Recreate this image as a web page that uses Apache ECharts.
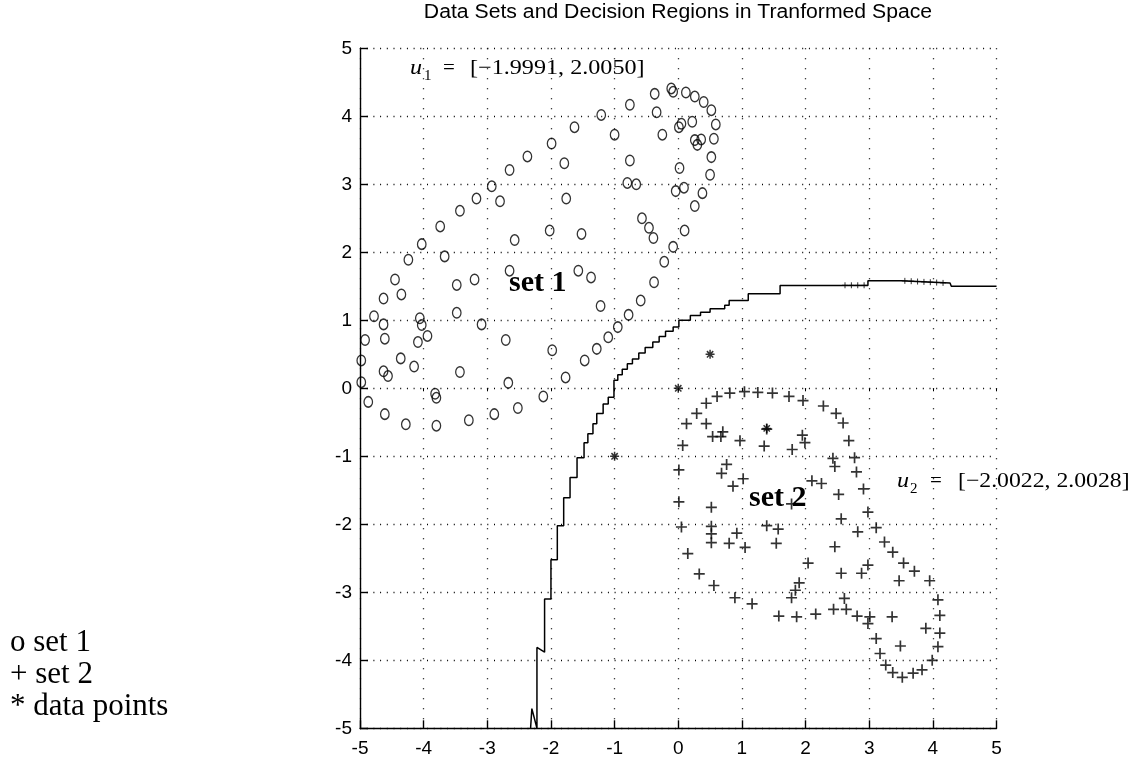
<!DOCTYPE html>
<html>
<head>
<meta charset="utf-8">
<script src="https://cdn.jsdelivr.net/npm/echarts@6/dist/echarts.min.js"></script>
<style>
html,body{margin:0;padding:0;background:#fff;}
#chart{width:1138px;height:764px;}
</style>
</head>
<body>
<div id="chart"></div>
<script>
// ---- data ----
var axisTicks = [-5, -4, -3, -2, -1, 0, 1, 2, 3, 4, 5];

var set1X = [-0.37,-0.76,-0.11,-0.08,0.12,0.26,0.40,0.52,0.59,0.22,0.05,0.01,-0.34,-1.21,-1.63,-1.00,-0.25,0.26,0.36,0.30,
  0.56,0.52,-1.99,-2.37,-1.79,-0.76,0.02,0.50,-2.65,-2.93,-2.80,-3.17,-3.43,-1.76,-0.80,-0.66,-0.04,0.09,0.38,0.26,
  -3.74,-4.03,-4.24,-3.67,-2.57,-2.02,-1.52,-0.57,-0.46,-0.39,0.10,-0.08,-0.22,-0.38,-4.45,-4.35,-4.63,-3.48,-3.20,-2.65,
  -1.57,-1.37,-4.78,-4.63,-4.06,-4.03,-3.94,-4.09,-3.48,-3.09,-1.22,-0.59,-0.78,-0.95,-1.10,-1.28,-1.47,-1.77,-1.98,-2.71,
  -4.61,-4.92,-4.98,-4.36,-4.15,-4.63,-4.56,-4.98,-3.43,-2.67,-3.82,-3.80,-4.87,-4.61,-4.28,-3.80,-3.29,-2.89,-2.52,-2.12];
var set1Y = [4.33,4.17,4.41,4.36,4.35,4.29,4.21,4.09,3.88,3.92,3.89,3.84,4.06,4.02,3.84,3.73,3.73,3.65,3.66,3.58,
  3.67,3.40,3.60,3.41,3.31,3.35,3.24,3.14,3.21,2.97,2.75,2.79,2.61,2.79,3.02,3.00,2.90,2.95,2.87,2.68,
  2.38,2.12,1.89,1.94,2.18,2.32,2.27,2.50,2.36,2.21,2.32,2.08,1.86,1.56,1.60,1.38,1.32,1.52,1.60,1.73,
  1.73,1.63,1.06,0.94,1.03,0.93,0.77,0.68,1.11,0.94,1.21,1.29,1.08,0.90,0.75,0.58,0.41,0.16,0.56,0.71,
  0.73,0.71,0.41,0.44,0.32,0.25,0.18,0.09,0.24,0.08,-0.08,-0.14,-0.20,-0.38,-0.53,-0.55,-0.47,-0.38,-0.29,-0.12];

var set2X = [0.44,0.61,0.81,1.04,1.25,1.48,1.74,1.96,2.28,2.48,2.59,2.68,2.77,2.80,2.91,2.98,3.11,3.24,3.37,3.54,
  3.71,3.95,4.08,4.11,4.11,4.08,3.99,3.83,3.69,3.52,3.37,3.26,3.17,3.11,2.98,3.01,2.81,2.64,2.61,2.44,
  2.16,1.86,1.58,1.78,1.84,1.90,2.04,2.56,2.88,2.98,3.47,3.89,3.36,3.49,2.46,2.56,2.82,2.52,2.10,2.25,
  1.78,1.39,1.57,1.54,2.43,2.46,1.95,1.99,1.79,1.35,1.39,0.97,0.54,0.67,0.70,0.44,0.13,0.29,0.07,0.01,
  0.01,0.05,0.15,0.33,0.56,0.89,1.16,0.76,0.68,1.02,0.86,0.52,0.52,0.52,0.52,0.80,0.92,1.05];
var set2Y = [-0.22,-0.12,-0.07,-0.05,-0.06,-0.07,-0.12,-0.18,-0.26,-0.37,-0.51,-0.77,-1.02,-1.23,-1.48,-1.82,-2.05,-2.26,-2.41,-2.57,
  -2.69,-2.83,-3.11,-3.34,-3.60,-3.80,-4.00,-4.14,-4.19,-4.25,-4.18,-4.07,-3.90,-3.68,-3.46,-3.36,-3.35,-3.25,-3.09,-3.25,
  -3.32,-3.36,-3.35,-3.08,-2.97,-2.86,-2.57,-2.72,-2.72,-2.60,-2.83,-3.53,-3.36,-3.79,-2.33,-1.92,-2.11,-1.56,-1.36,-1.40,
  -1.70,-2.02,-2.07,-2.28,-1.03,-1.15,-0.69,-0.80,-0.90,-0.85,-0.60,-0.77,-0.71,-0.71,-0.64,-0.52,-0.52,-0.37,-0.84,-1.20,
  -1.67,-2.04,-2.43,-2.73,-2.90,-3.08,-3.17,-1.12,-1.25,-1.33,-1.44,-1.75,-2.03,-2.14,-2.27,-2.28,-2.13,-2.34];

var pointsX = [0.00, 0.50, -1.00, 1.39];
var pointsY = [0.00, 0.50, -1.00, -0.59];

var boundaryX = [-2.32,-2.30,-2.22,-2.22,-2.10,-2.10,-2.00,-2.00,-1.90,-1.90,-1.80,-1.80,-1.70,-1.70,-1.59,-1.59,-1.48,-1.48,
  -1.42,-1.42,-1.34,-1.34,-1.28,-1.28,-1.18,-1.18,-1.10,-1.10,-1.01,-1.01,-0.95,-0.95,-0.88,-0.88,-0.80,-0.80,
  -0.72,-0.72,-0.62,-0.62,-0.52,-0.52,-0.40,-0.40,-0.30,-0.30,-0.20,-0.20,-0.08,-0.08,0.01,0.01,0.19,0.19,
  0.35,0.35,0.50,0.50,0.73,0.73,0.80,0.80,1.10,1.10,1.60,1.60,2.98,2.98,3.50,4.27,4.29,5.00];
var boundaryY = [-5.00,-4.71,-5.00,-3.81,-3.88,-3.10,-3.10,-2.52,-2.52,-2.02,-2.02,-1.61,-1.61,-1.31,-1.31,-1.02,-1.02,-0.80,
  -0.80,-0.67,-0.67,-0.52,-0.52,-0.37,-0.37,-0.23,-0.23,-0.13,-0.13,0.12,0.12,0.20,0.20,0.28,0.28,0.36,
  0.36,0.43,0.43,0.52,0.52,0.60,0.60,0.68,0.68,0.76,0.76,0.84,0.84,0.90,0.90,1.00,1.00,1.07,1.07,1.12,
  1.12,1.17,1.17,1.22,1.22,1.29,1.29,1.39,1.39,1.51,1.51,1.58,1.58,1.55,1.50,1.50];

var blipX = [2.62,2.72,2.82,2.92,3.56,3.66,3.76,3.86,3.96,4.06,4.16];
var blipY = [1.515,1.515,1.515,1.515,1.58,1.575,1.57,1.565,1.56,1.555,1.55];

var titleText = 'Data Sets and Decision Regions in Tranformed Space';
var legendLines = ['o set 1', '+ set 2', '* data points'];

function zip(xs, ys) { return xs.map(function (x, i) { return [x, ys[i]]; }); }

var CROSS = 'path://M5,0L5,10M0,5L10,5';
var STAR = 'path://M5,0L5,10M0,5L10,5M1.5,1.5L8.5,8.5M1.5,8.5L8.5,1.5';
var tickFont = 'Liberation Sans';
var serif = 'Liberation Serif';

function txt(x, y, s, size, opts) {
  opts = opts || {};
  return {
    type: 'text', x: x, y: y, z: 100, silent: true,
    scaleX: opts.sx || 1,
    style: {
      text: s, fill: '#000', fontSize: size, fontFamily: opts.family || serif,
      fontStyle: opts.italic ? 'italic' : 'normal', fontWeight: opts.bold ? 'bold' : 'normal',
      align: opts.align || 'left', verticalAlign: 'middle',
      textAlign: opts.align || 'left', textVerticalAlign: 'middle'
    }
  };
}

var chart = echarts.init(document.getElementById('chart'), null, {renderer: 'canvas'});
var option = {
  animation: false,
  backgroundColor: '#fff',
  grid: {left: 360, right: 141.5, top: 48.3, bottom: 35.7, containLabel: false},
  xAxis: [{
    type: 'value', min: -5, max: 5, interval: 1, position: 'bottom',
    axisLine: {show: true, onZero: false, lineStyle: {color: '#000', width: 1.4}},
    axisTick: {show: true, inside: true, length: 8, lineStyle: {color: '#000', width: 1.4}},
    axisLabel: {color: '#000', fontSize: 19, fontFamily: tickFont, margin: 11,
      formatter: function (v) { return String(v); }},
    splitLine: {show: true, lineStyle: {color: '#000', width: 1.3, type: [1, 9]}}
  }, {
    type: 'value', min: -5, max: 5, interval: 1, position: 'top',
    axisLine: {show: false},
    axisTick: {show: true, inside: true, length: 3, lineStyle: {color: '#000', width: 1}},
    axisLabel: {show: false}, splitLine: {show: false}
  }],
  yAxis: [{
    type: 'value', min: -5, max: 5, interval: 1,
    axisLine: {show: true, onZero: false, lineStyle: {color: '#000', width: 1.4}},
    axisTick: {show: true, inside: true, length: 8, lineStyle: {color: '#000', width: 1.4}},
    axisLabel: {color: '#000', fontSize: 19, fontFamily: tickFont, margin: 8,
      formatter: function (v) { return String(v); }},
    splitLine: {show: true, lineStyle: {color: '#000', width: 1.3, type: [1, 5.7]}}
  }],
  series: [{
    type: 'line', name: 'boundary', data: zip(boundaryX, boundaryY), showSymbol: false, symbol: 'none',
    lineStyle: {color: '#000', width: 1.5}, silent: true, z: 2, clip: true
  }, {
    type: 'scatter', name: 'blips', data: zip(blipX, blipY), symbol: CROSS, symbolSize: 6,
    itemStyle: {color: 'rgba(0,0,0,0)', borderColor: '#000', borderWidth: 1}, silent: true, z: 3
  }, {
    type: 'scatter', name: 'set 1', data: zip(set1X, set1Y), symbol: 'circle', symbolSize: [8.5, 10.5],
    itemStyle: {color: 'rgba(0,0,0,0)', borderColor: '#000', borderWidth: 1.4}, silent: true, z: 4
  }, {
    type: 'scatter', name: 'set 2', data: zip(set2X, set2Y), symbol: CROSS, symbolSize: 11,
    itemStyle: {color: 'rgba(0,0,0,0)', borderColor: '#000', borderWidth: 1.7}, silent: true, z: 4
  }, {
    type: 'scatter', name: 'data points', data: zip(pointsX, pointsY), symbol: STAR, symbolSize: 9,
    itemStyle: {color: 'rgba(0,0,0,0)', borderColor: '#000', borderWidth: 1.5}, silent: true, z: 5
  }],
  graphic: [
    txt(678, 12, titleText, 20, {family: tickFont, align: 'center', sx: 1.06}),
    txt(410, 68, 'u', 21, {italic: true, sx: 1.15}),
    txt(424, 76, '1', 15),
    txt(443, 68, '=', 21),
    txt(470, 68, '[\u22121.9991, 2.0050]', 21, {sx: 1.15}),
    txt(897, 481, 'u', 21, {italic: true, sx: 1.15}),
    txt(910, 489, '2', 15),
    txt(930, 481, '=', 21),
    txt(958, 481, '[\u22122.0022, 2.0028]', 21, {sx: 1.13}),
    txt(509, 283, 'set 1', 30, {bold: true}),
    txt(749, 498, 'set 2', 30, {bold: true}),
    txt(10, 643, legendLines[0], 31),
    txt(10, 675, legendLines[1], 31),
    txt(10, 707, legendLines[2], 31)
  ]
};
chart.setOption(option);
</script>
</body>
</html>
